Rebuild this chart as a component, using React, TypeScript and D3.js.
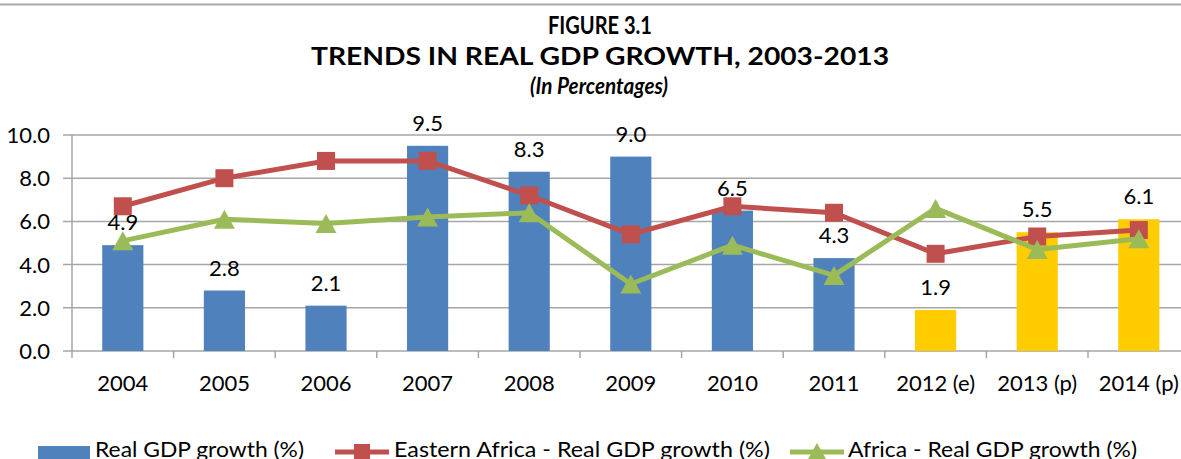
import React from 'react';
import * as d3 from 'd3';

const years = ['2004', '2005', '2006', '2007', '2008', '2009', '2010', '2011', '2012 (e)', '2013 (p)', '2014 (p)'];
const gdpGrowth = [4.9, 2.8, 2.1, 9.5, 8.3, 9.0, 6.5, 4.3, 1.9, 5.5, 6.1];
const isForecast = [false, false, false, false, false, false, false, false, true, true, true];
const easternAfrica = [6.7, 8.0, 8.8, 8.8, 7.2, 5.4, 6.7, 6.4, 4.5, 5.3, 5.6];
const africa = [5.1, 6.1, 5.9, 6.2, 6.4, 3.1, 4.9, 3.5, 6.6, 4.7, 5.2];
const yTicks = [0, 2, 4, 6, 8, 10];

const W = 1181;
const H = 459;
const FONT = 'Lato, "Open Sans", sans-serif';
const BLUE = '#4F81BD';
const YELLOW = '#FFCC00';
const RED = '#C0504D';
const GREEN = '#9BBB59';
const GRID = '#A6A6A6';

const triangle = (cx: number, cy: number, w: number, h: number) =>
  `M${cx},${cy - h / 2}L${cx + w / 2},${cy + h / 2}L${cx - w / 2},${cy + h / 2}Z`;

const App = () => {
  const left = 72;
  const step = 101.6;
  const x = d3.scaleBand<string>()
    .domain(years)
    .range([left, left + step * years.length]);
  const y = d3.scaleLinear().domain([0, 10]).range([351, 135]);
  const barW = x.bandwidth() * 0.405;
  const cx = (d: string) => (x(d) as number) + x.bandwidth() / 2;

  const line = d3.line<number>()
    .x((_, i) => cx(years[i]))
    .y(d => y(d));

  return (
    <svg width={W} height={H} style={{ position: 'absolute', left: 0, top: 0, background: '#fff' }} fontFamily={FONT}>
      <rect x={0} y={3.5} width={W} height={2} fill="#AAAAAA" />

      {/* title */}
      <text x={600} y={34} textAnchor="middle" fontWeight="bold" fontSize={24} textLength={104} lengthAdjust="spacingAndGlyphs">FIGURE 3.1</text>
      <text x={600} y={65} textAnchor="middle" fontWeight="bold" fontSize={24} textLength={578} lengthAdjust="spacingAndGlyphs">TRENDS IN REAL GDP GROWTH, 2003-2013</text>
      <text x={599} y={94} textAnchor="middle" fontWeight="bold" fontStyle="italic" fontSize={23} textLength={138} lengthAdjust="spacingAndGlyphs">(In Percentages)</text>

      {/* grid + y axis */}
      {yTicks.map(t => (
        <g key={t}>
          <line x1={63} x2={W} y1={y(t)} y2={y(t)} stroke={GRID} strokeWidth={1.5} />
          <text x={50} y={y(t)} dy="0.36em" textAnchor="end" fontSize={22}>{t.toFixed(1)}</text>
        </g>
      ))}
      <line x1={left} x2={left} y1={y(10)} y2={y(0) + 7} stroke={GRID} strokeWidth={1.5} />
      {years.map(d => (
        <g key={d}>
          <line x1={(x(d) as number) + x.bandwidth()} x2={(x(d) as number) + x.bandwidth()} y1={y(0)} y2={y(0) + 7} stroke={GRID} strokeWidth={1.5} />
          <text x={cx(d)} y={391} textAnchor="middle" fontSize={22}>{d}</text>
        </g>
      ))}

      {/* bars */}
      {years.map((d, i) => (
        <rect key={d} x={cx(d) - barW / 2} y={y(gdpGrowth[i])} width={barW} height={y(0) - y(gdpGrowth[i])}
          fill={isForecast[i] ? YELLOW : BLUE} />
      ))}

      {/* Eastern Africa */}
      <path d={line(easternAfrica) as string} fill="none" stroke={RED} strokeWidth={5} strokeLinejoin="round" />
      {easternAfrica.map((v, i) => (
        <rect key={i} x={cx(years[i]) - 9} y={y(v) - 9} width={18} height={18} fill={RED} />
      ))}

      {/* Africa */}
      <path d={line(africa) as string} fill="none" stroke={GREEN} strokeWidth={5} strokeLinejoin="round" />
      {africa.map((v, i) => (
        <path key={i} d={triangle(cx(years[i]), y(v), 21, 19)} fill={GREEN} />
      ))}

      {/* data labels */}
      {years.map((d, i) => (
        <text key={d} x={cx(d)} y={y(gdpGrowth[i]) - 15} textAnchor="middle" fontSize={22}>{gdpGrowth[i].toFixed(1)}</text>
      ))}

      {/* legend */}
      <rect x={38} y={446} width={52} height={13} fill={BLUE} />
      <text x={95} y={457} fontSize={22} textLength={209} lengthAdjust="spacingAndGlyphs">Real GDP growth (%)</text>
      <line x1={335} x2={389} y1={452} y2={452} stroke={RED} strokeWidth={5} />
      <rect x={354} y={444} width={16} height={16} fill={RED} />
      <text x={394} y={457} fontSize={22} textLength={376} lengthAdjust="spacingAndGlyphs">Eastern Africa - Real GDP growth (%)</text>
      <line x1={790} x2={844} y1={452} y2={452} stroke={GREEN} strokeWidth={5} />
      <path d={triangle(817, 451, 18, 16)} fill={GREEN} />
      <text x={848} y={457} fontSize={22} textLength={289} lengthAdjust="spacingAndGlyphs">Africa - Real GDP growth (%)</text>
    </svg>
  );
};

export default App;
